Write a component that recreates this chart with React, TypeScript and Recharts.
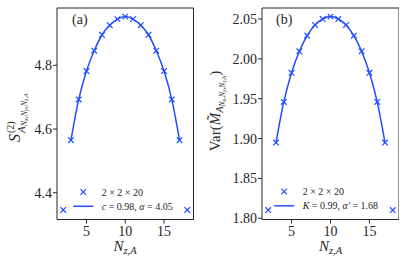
import { ComposedChart, Line, ReferenceArea, Scatter, XAxis, YAxis } from "recharts";

const BLUE = "#1f4dff";
const INK = "#262626";
const FONT = "'Liberation Serif', 'DejaVu Serif', serif";

// subsystem length along z
const nzSites = [2, 3, 4, 5, 6, 7, 8, 9, 10, 11, 12, 13, 14, 15, 16, 17, 18];

// panel (a): Renyi-2 entropy
const entropyMeasured = [
  4.346, 4.565, 4.693, 4.782, 4.846, 4.896, 4.926, 4.945, 4.953, 4.945, 4.926,
  4.896, 4.846, 4.782, 4.693, 4.565, 4.346,
];
const entropyFit = [
  null, 4.565, 4.693, 4.782, 4.846, 4.896, 4.926, 4.945, 4.953, 4.945, 4.926,
  4.896, 4.846, 4.782, 4.693, 4.565, null,
];

// panel (b): variance
const varianceMeasured = [
  1.8104, 1.895, 1.946, 1.9825, 2.0095, 2.029, 2.0425, 2.050, 2.053, 2.050,
  2.0425, 2.029, 2.0095, 1.9825, 1.946, 1.895, 1.8104,
];
const varianceFit = [
  null, 1.895, 1.946, 1.9825, 2.0095, 2.029, 2.0425, 2.050, 2.053, 2.050,
  2.0425, 2.029, 2.0095, 1.9825, 1.946, 1.895, null,
];

const xTicks = [5, 10, 15];
const entropyTicks = [4.4, 4.6, 4.8];
const varianceTicks = [1.8, 1.85, 1.9, 1.95, 2.0, 2.05];

const X_DOMAIN: [number, number] = [1.2, 18.8];

function Cross(props: any) {
  const { cx, cy } = props;
  if (cx == null || cy == null) return null;
  const r = 2.8;
  return (
    <path
      d={`M${cx - r},${cy - r}L${cx + r},${cy + r}M${cx - r},${cy + r}L${cx + r},${cy - r}`}
      stroke={BLUE}
      strokeWidth={1.2}
      fill="none"
    />
  );
}

type PanelProps = {
  left: number;
  width: number;
  measured: number[];
  fit: (number | null)[];
  yDomain: [number, number];
  yTicks: number[];
  digits: number;
};

function Panel({ left, width, measured, fit, yDomain, yTicks, digits }: PanelProps) {
  const data = nzSites.map((nz, i) => ({ nz, measured: measured[i], fit: fit[i] }));
  const tick = { fill: INK, fontSize: 14, fontFamily: FONT };
  return (
    <div style={{ position: "absolute", left, top: 0 }}>
      <ComposedChart
        width={width}
        height={262}
        data={data}
        margin={{ top: 8, right: 0, bottom: 0, left: 0 }}
      >
        <XAxis
          dataKey="nz"
          type="number"
          domain={X_DOMAIN}
          ticks={xTicks}
          height={42.5}
          axisLine={false}
          tickLine={{ stroke: INK }}
          tickSize={4}
          tickMargin={2.5}
          tick={tick}
        />
        <YAxis
          type="number"
          domain={yDomain}
          ticks={yTicks}
          width={57}
          axisLine={false}
          tickLine={{ stroke: INK }}
          tickSize={4}
          tickMargin={1}
          tick={tick}
          tickFormatter={(v: number) => v.toFixed(digits)}
        />
        <ReferenceArea
          x1={X_DOMAIN[0]}
          x2={X_DOMAIN[1]}
          y1={yDomain[0]}
          y2={yDomain[1]}
          fill="none"
          stroke={INK}
          strokeWidth={1}
        />
        <Line
          dataKey="fit"
          type="monotone"
          stroke={BLUE}
          strokeWidth={1.5}
          dot={false}
          isAnimationActive={false}
        />
        <Scatter dataKey="measured" shape={Cross} isAnimationActive={false} />
      </ComposedChart>
    </div>
  );
}

function LegendBlock({ cx, textX, y, second }: { cx: number; textX: number; y: number; second: any }) {
  const r = 2.8;
  return (
    <g fontFamily={FONT} fontSize={10} fill={INK}>
      <path
        d={`M${cx - r},${y - r}L${cx + r},${y + r}M${cx - r},${y + r}L${cx + r},${y - r}`}
        stroke={BLUE}
        strokeWidth={1.2}
      />
      <text x={textX} y={y + 3.5}>2 × 2 × 20</text>
      <line x1={cx - 10} x2={cx + 10} y1={y + 14.3} y2={y + 14.3} stroke={BLUE} strokeWidth={1.5} />
      <text x={textX} y={y + 17.8}>{second}</text>
    </g>
  );
}

function Overlay() {
  return (
    <svg
      width={407}
      height={262}
      style={{ position: "absolute", left: 0, top: 0, pointerEvents: "none" }}
    >
      <g fontFamily={FONT} fill={INK}>
        <text x={72} y={24} fontSize={14}>(a)</text>
        <text x={276} y={24} fontSize={14}>(b)</text>

        {/* x labels */}
        <text x={125} y={251} textAnchor="middle" fontSize={15}>
          <tspan fontStyle="italic">N</tspan>
          <tspan fontSize={10.5} dy={3} fontStyle="italic">z,A</tspan>
        </text>
        <text x={330.5} y={251} textAnchor="middle" fontSize={15}>
          <tspan fontStyle="italic">N</tspan>
          <tspan fontSize={10.5} dy={3} fontStyle="italic">z,A</tspan>
        </text>

        {/* y label (a) */}
        <g transform="translate(20,0) rotate(-90)">
          <text x={-142} y={0} fontSize={16} fontStyle="italic">S</text>
          <text x={-133} y={-6.5} fontSize={10}>(2)</text>
          <text x={-133} y={4.5} fontSize={11} fontStyle="italic">
            A
            <tspan fontSize={8} dy={2}>N</tspan>
            <tspan fontSize={6} dy={1.5}>x</tspan>
            <tspan fontSize={8} dy={-1.5}>,N</tspan>
            <tspan fontSize={6} dy={1.5}>y</tspan>
            <tspan fontSize={8} dy={-1.5}>,N</tspan>
            <tspan fontSize={6} dy={1.5}>z,A</tspan>
          </text>
        </g>

        {/* y label (b) */}
        <g transform="translate(219.5,0) rotate(-90)">
          <text x={-111} y={0} textAnchor="middle" fontSize={15}>
            Var(
            <tspan fontStyle="italic">M̃</tspan>
            <tspan fontSize={10.5} dy={3} fontStyle="italic">A</tspan>
            <tspan fontSize={7.5} dy={2} fontStyle="italic">N</tspan>
            <tspan fontSize={5.5} dy={1.5} fontStyle="italic">x</tspan>
            <tspan fontSize={7.5} dy={-1.5} fontStyle="italic">,N</tspan>
            <tspan fontSize={5.5} dy={1.5} fontStyle="italic">y</tspan>
            <tspan fontSize={7.5} dy={-1.5} fontStyle="italic">,N</tspan>
            <tspan fontSize={5.5} dy={1.5} fontStyle="italic">z,A</tspan>
            <tspan fontSize={15} dy={-6.5}>)</tspan>
          </text>
        </g>
      </g>

      <LegendBlock
        cx={83.3}
        textX={101.7}
        y={192}
        second={
          <>
            <tspan fontStyle="italic">c</tspan> = 0.98, <tspan fontStyle="italic">α</tspan> = 4.05
          </>
        }
      />
      <LegendBlock
        cx={284.2}
        textX={302.7}
        y={191.5}
        second={
          <>
            <tspan fontStyle="italic">K</tspan> = 0.99, <tspan fontStyle="italic">α′</tspan> = 1.68
          </>
        }
      />
    </svg>
  );
}

export default function App() {
  return (
    <div style={{ position: "absolute", left: 0, top: 0, width: 407, height: 262, background: "#fff" }}>
      <Panel
        left={0}
        width={193.5}
        measured={entropyMeasured}
        fit={entropyFit}
        yDomain={[4.316, 4.98]}
        yTicks={entropyTicks}
        digits={1}
      />
      <Panel
        left={205}
        width={194}
        measured={varianceMeasured}
        fit={varianceFit}
        yDomain={[1.7985, 2.0638]}
        yTicks={varianceTicks}
        digits={2}
      />
      <Overlay />
    </div>
  );
}
